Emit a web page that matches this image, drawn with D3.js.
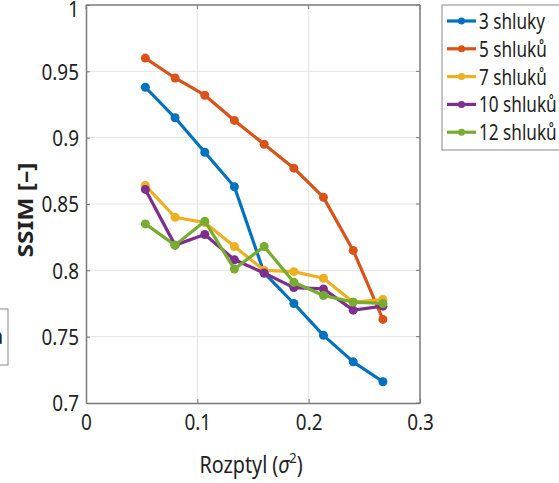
<!DOCTYPE html>
<html>
<head>
<meta charset="utf-8">
<script src="https://cdn.jsdelivr.net/npm/d3@7"></script>
<style>
  body { margin: 0; background: #fff; }
  svg text { font-family: "Noto Sans", "Open Sans", sans-serif; fill: #222; }
</style>
</head>
<body>
<div id="chart"></div>
<script>
// rozptyl (x values)
const variance = [0.0533, 0.08, 0.1067, 0.1333, 0.16, 0.1867, 0.2133, 0.24, 0.2667];

const seriesNames = ["3 shluky", "5 shluků", "7 shluků", "10 shluků", "12 shluků"];
const seriesColors = ["#0072BD", "#D95319", "#EDB120", "#7E2F8E", "#77AC30"];

const ssim3 = [0.938, 0.915, 0.889, 0.863, 0.798, 0.775, 0.751, 0.731, 0.716];
const ssim5 = [0.960, 0.945, 0.932, 0.913, 0.895, 0.877, 0.855, 0.815, 0.763];
const ssim7 = [0.864, 0.840, 0.836, 0.818, 0.800, 0.799, 0.794, 0.776, 0.778];
const ssim10 = [0.861, 0.819, 0.827, 0.808, 0.798, 0.787, 0.786, 0.770, 0.773];
const ssim12 = [0.835, 0.819, 0.837, 0.801, 0.818, 0.791, 0.781, 0.776, 0.775];

const xTicks = [0, 0.1, 0.2, 0.3];
const yTicks = [0.7, 0.75, 0.8, 0.85, 0.9, 0.95, 1];

const allSeries = [ssim3, ssim5, ssim7, ssim10, ssim12];

let width = 559, height = 483;
let margin = {top: 5, right: 139, bottom: 80, left: 86};
// the reference font is a condensed one, squeeze Noto Sans horizontally
let squeeze = 0.86;

let svg = d3.select("#chart").append("svg")
    .attr("width", width)
    .attr("height", height);

let xScale = d3.scaleLinear()
    .domain([0, 0.3])
    .range([margin.left, width - margin.right]);

let yScale = d3.scaleLinear()
    .domain([0.7, 1])
    .range([height - margin.bottom, margin.top]);

// grid lines
svg.append("g").selectAll("line.vgrid")
    .data(xTicks.slice(1, -1))
    .join("line")
    .attr("x1", d => xScale(d)).attr("x2", d => xScale(d))
    .attr("y1", yScale(0.7)).attr("y2", yScale(1))
    .attr("stroke", "#e3e3e3").attr("stroke-width", 1);

svg.append("g").selectAll("line.hgrid")
    .data(yTicks.slice(1, -1))
    .join("line")
    .attr("x1", xScale(0)).attr("x2", xScale(0.3))
    .attr("y1", d => yScale(d)).attr("y2", d => yScale(d))
    .attr("stroke", "#e3e3e3").attr("stroke-width", 1);

// axes, ticks inward
let xAxis = svg.append("g")
    .attr("transform", `translate(0,${yScale(0.7)})`)
    .call(d3.axisBottom(xScale).tickValues(xTicks).tickSizeInner(-4).tickSizeOuter(0)
        .tickFormat(d => d === 0 ? "0" : d3.format(".1f")(d)));

let yAxis = svg.append("g")
    .attr("transform", `translate(${xScale(0)},0)`)
    .call(d3.axisLeft(yScale).tickValues(yTicks).tickSizeInner(-4).tickSizeOuter(0)
        .tickFormat(d => d === 1 ? "1" : String(+d.toFixed(2))));

[xAxis, yAxis].forEach(ax => {
    ax.select(".domain").attr("stroke", "#7a7a7a").attr("stroke-width", 1.5);
    ax.selectAll(".tick line").attr("stroke", "#7a7a7a");
    ax.selectAll("text").style("font-size", "22px").attr("fill", "#222")
        .attr("transform", `scale(${squeeze},1)`);
});
xAxis.selectAll("text").attr("dy", "1.1em");
yAxis.selectAll(".tick text").attr("x", -7 / squeeze).attr("dy", d => d === 1 ? "0.5em" : "0.36em");

// top and right border with inward ticks
svg.append("line")
    .attr("x1", xScale(0)).attr("x2", xScale(0.3))
    .attr("y1", yScale(1)).attr("y2", yScale(1))
    .attr("stroke", "#7a7a7a").attr("stroke-width", 1.5);
svg.append("line")
    .attr("x1", xScale(0.3)).attr("x2", xScale(0.3))
    .attr("y1", yScale(1)).attr("y2", yScale(0.7))
    .attr("stroke", "#7a7a7a").attr("stroke-width", 1.5);
svg.append("g").selectAll("line")
    .data(xTicks)
    .join("line")
    .attr("x1", d => xScale(d)).attr("x2", d => xScale(d))
    .attr("y1", yScale(1)).attr("y2", yScale(1) + 4)
    .attr("stroke", "#7a7a7a");
svg.append("g").selectAll("line")
    .data(yTicks)
    .join("line")
    .attr("x1", xScale(0.3)).attr("x2", xScale(0.3) - 4)
    .attr("y1", d => yScale(d)).attr("y2", d => yScale(d))
    .attr("stroke", "#7a7a7a");

// lines + markers
let line = d3.line()
    .x((d, i) => xScale(variance[i]))
    .y(d => yScale(d));

allSeries.forEach((vals, s) => {
    let g = svg.append("g");
    g.append("path")
        .datum(vals)
        .attr("d", line)
        .attr("fill", "none")
        .attr("stroke", seriesColors[s])
        .attr("stroke-width", 3.2)
        .attr("stroke-linejoin", "round");
    g.selectAll("circle")
        .data(vals)
        .join("circle")
        .attr("cx", (d, i) => xScale(variance[i]))
        .attr("cy", d => yScale(d))
        .attr("r", 4.5)
        .attr("fill", seriesColors[s]);
});

// axis labels
svg.append("text")
    .attr("transform", `translate(${(xScale(0) + xScale(0.3)) / 2 - 2},473) scale(${squeeze},1)`)
    .attr("text-anchor", "middle")
    .style("font-size", "23px")
    .html('Rozptyl (<tspan font-style="italic">σ</tspan><tspan dy="-10" font-size="15px">2</tspan><tspan dy="10">)</tspan>');

svg.append("text")
    .attr("transform", `translate(33,${(yScale(0.7) + yScale(1)) / 2 + 6}) rotate(-90) scale(1.12,1)`)
    .attr("text-anchor", "middle")
    .style("font-size", "22px")
    .style("font-weight", "bold")
    .text("SSIM [–]");

// legend
let legend = svg.append("g").attr("transform", "translate(442,5)");
legend.append("rect")
    .attr("x", 0).attr("y", 0)
    .attr("width", 140).attr("height", 145)
    .attr("fill", "#fff")
    .attr("stroke", "#8a8a8a").attr("stroke-width", 1);

seriesNames.forEach((name, i) => {
    let y = 16 + i * 27.8;
    legend.append("line")
        .attr("x1", 5).attr("x2", 34)
        .attr("y1", y).attr("y2", y)
        .attr("stroke", seriesColors[i]).attr("stroke-width", 3.2);
    legend.append("circle")
        .attr("cx", 19.5).attr("cy", y).attr("r", 3.5)
        .attr("fill", seriesColors[i]);
    legend.append("text")
        .attr("transform", `translate(37,${y}) scale(0.78,1)`)
        .attr("dy", "0.36em")
        .style("font-size", "22px")
        .text(name);
});

// clipped neighbouring legend box at the left edge
svg.append("rect")
    .attr("x", -40).attr("y", 309)
    .attr("width", 48).attr("height", 56)
    .attr("fill", "#fff")
    .attr("stroke", "#8a8a8a").attr("stroke-width", 1);
svg.append("text")
    .attr("x", -9).attr("y", 344)
    .style("font-size", "22px")
    .text("a");
</script>
</body>
</html>
